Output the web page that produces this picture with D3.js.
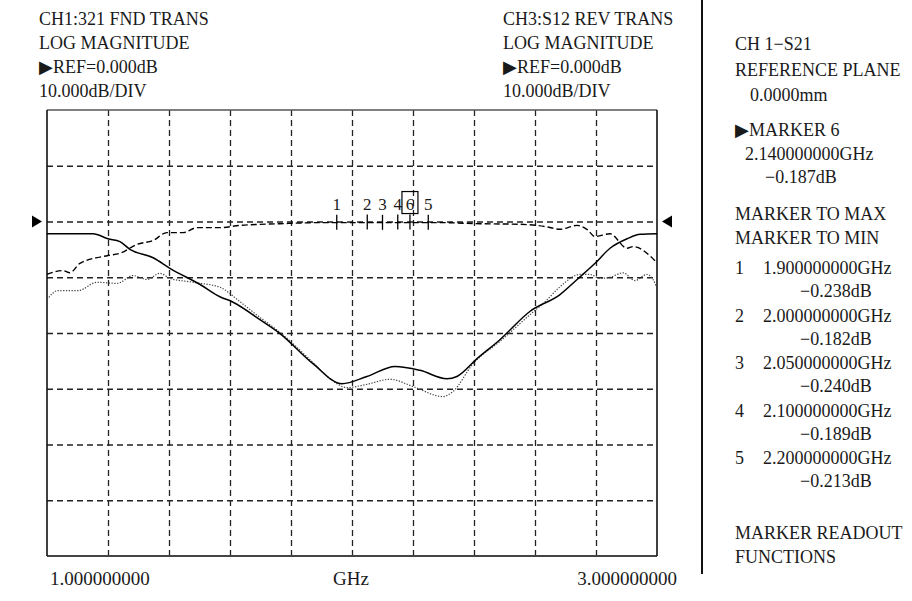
<!DOCTYPE html>
<html>
<head>
<meta charset="utf-8">
<script src="https://cdn.jsdelivr.net/npm/d3@7"></script>
<style>
  body { margin: 0; background: #fff; }
  svg text { font-family: "Liberation Serif", "Times New Roman", serif; fill: #1a1a1a; }
</style>
</head>
<body>
<svg id="chart" width="912" height="601"></svg>
<script>
// Sweep and display settings
const sweepGHz = [0.95, 2.95];
const dbRange = [-60, 20];
const xDivisions = 10;
const yDivisions = 8;
const startLabel = "1.000000000";
const stopLabel = "3.000000000";
const unitLabel = "GHz";

// Channel header text
const ch1Header = ["CH1:321 FND TRANS", "LOG MAGNITUDE", "\u25B6REF=0.000dB", "10.000dB/DIV"];
const ch3Header = ["CH3:S12 REV TRANS", "LOG MAGNITUDE", "\u25B6REF=0.000dB", "10.000dB/DIV"];

// Trace readings: [GHz, dB]
const s21Trace = [
  [0.950, -9.5], [1.002, -8.8], [1.025, -9.2], [1.058, -7.5], [1.150, -6.1], [1.189, -5.7],
  [1.245, -4.1], [1.298, -3.4], [1.343, -2.0], [1.396, -2.0], [1.442, -1.1], [1.517, -1.1],
  [1.583, -0.7], [1.714, -0.4], [1.845, -0.2], [1.976, -0.2], [2.107, -0.2], [2.239, -0.2],
  [2.370, -0.4], [2.501, -0.5], [2.583, -0.9], [2.632, -1.4], [2.688, -0.7], [2.720, -1.4],
  [2.747, -2.7], [2.796, -2.2], [2.852, -4.8], [2.871, -4.5], [2.950, -7.4]
];
const fwdTrace = [
  [0.950, -2.2], [1.101, -2.2], [1.150, -3.1], [1.189, -3.6], [1.222, -5.0], [1.298, -6.5],
  [1.353, -8.4], [1.452, -11.3], [1.517, -13.5], [1.557, -14.4], [1.648, -17.6], [1.714, -20.1],
  [1.822, -25.5], [1.917, -29.1], [1.999, -27.8], [2.091, -26.0], [2.173, -26.7], [2.261, -28.2],
  [2.294, -27.8], [2.360, -24.6], [2.435, -21.2], [2.534, -16.1], [2.632, -13.1], [2.688, -10.4],
  [2.747, -7.5], [2.796, -4.8], [2.852, -3.1], [2.895, -2.3], [2.950, -2.2]
];
const revTrace = [
  [0.950, -14.0], [0.986, -12.4], [1.052, -12.4], [1.114, -10.9], [1.180, -11.1], [1.232, -9.7],
  [1.278, -10.4], [1.320, -9.3], [1.353, -10.2], [1.429, -10.9], [1.517, -11.8], [1.583, -14.4],
  [1.648, -17.2], [1.714, -19.9], [1.822, -25.3], [1.878, -28.2], [1.934, -29.8], [1.999, -29.2],
  [2.075, -28.3], [2.150, -29.6], [2.248, -31.4], [2.281, -30.5], [2.347, -25.5], [2.435, -21.5],
  [2.534, -16.7], [2.583, -14.4], [2.632, -11.7], [2.698, -9.5], [2.730, -9.5], [2.763, -10.2],
  [2.796, -10.0], [2.839, -9.2], [2.878, -10.6], [2.917, -9.5], [2.937, -10.4], [2.950, -12.0]
];

// Marker table
const markerIds = [1, 2, 3, 4, 5, 6];
const markerGHz = [1.90, 2.00, 2.05, 2.10, 2.20, 2.14];
const markerDb = [-0.238, -0.182, -0.240, -0.189, -0.213, -0.187];
const activeMarker = 6;
const markerFreqText = ["1.900000000GHz", "2.000000000GHz", "2.050000000GHz", "2.100000000GHz", "2.200000000GHz", "2.140000000GHz"];

const svg = d3.select("#chart");
const plot = { left: 47, top: 110, width: 610, height: 446 };

const x = d3.scaleLinear().domain(sweepGHz).range([plot.left, plot.left + plot.width]);
const y = d3.scaleLinear().domain(dbRange).range([plot.top + plot.height, plot.top]);

const xDivs = d3.range(1, xDivisions).map(i => sweepGHz[0] + i * (sweepGHz[1] - sweepGHz[0]) / xDivisions);
const yDivs = d3.range(1, yDivisions).map(i => dbRange[0] + i * (dbRange[1] - dbRange[0]) / yDivisions);

// Graticule
const gx = svg.append("g")
  .attr("transform", `translate(0,${plot.top + plot.height})`)
  .call(d3.axisBottom(x).tickValues(xDivs).tickSize(-plot.height).tickFormat(""));
gx.select(".domain").remove();
gx.selectAll("line").attr("stroke", "#222").attr("stroke-width", 1.3).attr("stroke-dasharray", "6,4");

const gy = svg.append("g")
  .attr("transform", `translate(${plot.left},0)`)
  .call(d3.axisLeft(y).tickValues(yDivs).tickSize(-plot.width).tickFormat(""));
gy.select(".domain").remove();
gy.selectAll("line").attr("stroke", "#222").attr("stroke-width", 1.3).attr("stroke-dasharray", "6,4");

// Frame
svg.append("line").attr("x1", x(sweepGHz[0])).attr("x2", x(sweepGHz[1])).attr("y1", y(dbRange[1])).attr("y2", y(dbRange[1]))
  .attr("stroke", "#555").attr("stroke-width", 1.5);
svg.append("line").attr("x1", x(sweepGHz[0])).attr("x2", x(sweepGHz[1])).attr("y1", y(dbRange[0])).attr("y2", y(dbRange[0]))
  .attr("stroke", "#444").attr("stroke-width", 2);
svg.append("line").attr("x1", x(sweepGHz[0])).attr("x2", x(sweepGHz[0])).attr("y1", y(dbRange[1])).attr("y2", y(dbRange[0]))
  .attr("stroke", "#111").attr("stroke-width", 1.6);
svg.append("line").attr("x1", x(sweepGHz[1])).attr("x2", x(sweepGHz[1])).attr("y1", y(dbRange[1])).attr("y2", y(dbRange[0]))
  .attr("stroke", "#111").attr("stroke-width", 1.6);

// Reference level pointers
const refY = y(0);
svg.append("path").attr("d", `M${x(sweepGHz[0]) - 15},${refY - 6}L${x(sweepGHz[0]) - 5},${refY}L${x(sweepGHz[0]) - 15},${refY + 6}Z`).attr("fill", "#000");
svg.append("path").attr("d", `M${x(sweepGHz[1]) + 15},${refY - 6}L${x(sweepGHz[1]) + 5},${refY}L${x(sweepGHz[1]) + 15},${refY + 6}Z`).attr("fill", "#000");

// Traces
const line = d3.line().x(d => x(d[0])).y(d => y(d[1])).curve(d3.curveMonotoneX);
svg.append("path").datum(revTrace).attr("d", line).attr("fill", "none")
  .attr("stroke", "#444").attr("stroke-width", 1.2).attr("stroke-dasharray", "1.3,1.5");
svg.append("path").datum(fwdTrace).attr("d", line).attr("fill", "none")
  .attr("stroke", "#000").attr("stroke-width", 1.5);
svg.append("path").datum(s21Trace).attr("d", line).attr("fill", "none")
  .attr("stroke", "#000").attr("stroke-width", 1.4).attr("stroke-dasharray", "6,3");

// Markers on the S21 trace
const markers = markerIds.map((id, i) => ({ id, f: markerGHz[i], db: markerDb[i] }));
const mg = svg.append("g");
mg.selectAll("line.tick").data(markers).join("line")
  .attr("x1", d => x(d.f)).attr("x2", d => x(d.f))
  .attr("y1", d => y(d.db) - 8).attr("y2", d => y(d.db) + 7)
  .attr("stroke", "#000").attr("stroke-width", 1.3);
mg.selectAll("text").data(markers).join("text")
  .attr("x", d => x(d.f)).attr("y", d => y(d.db) - 13)
  .attr("text-anchor", "middle").attr("font-size", 17)
  .text(d => d.id);
const act = markers.find(d => d.id === activeMarker);
mg.append("rect").attr("x", x(act.f) - 8).attr("y", y(act.db) - 31).attr("width", 16).attr("height", 22)
  .attr("fill", "none").attr("stroke", "#000").attr("stroke-width", 1.2);

// Headers
const hdr = (lines, x0) => svg.append("g").selectAll("text").data(lines).join("text")
  .attr("x", x0).attr("y", (d, i) => 25 + i * 24).attr("font-size", 18).text(d => d);
hdr(ch1Header, 39);
hdr(ch3Header, 503);

// Sweep labels
svg.append("text").attr("x", 50).attr("y", 585).attr("font-size", 19).text(startLabel);
svg.append("text").attr("x", 351).attr("y", 585).attr("font-size", 19).attr("text-anchor", "middle").text(unitLabel);
svg.append("text").attr("x", 677).attr("y", 585).attr("font-size", 19).attr("text-anchor", "end").text(stopLabel);

// Readout panel
svg.append("line").attr("x1", 702).attr("x2", 702).attr("y1", 0).attr("y2", 574).attr("stroke", "#111").attr("stroke-width", 2);
const fmtDb = v => (v < 0 ? "\u2212" : "") + Math.abs(v).toFixed(3) + "dB";
const panel = svg.append("g").attr("font-size", 18);
const put = (t, px, py) => panel.append("text").attr("x", px).attr("y", py).text(t);
const act6 = markerIds.indexOf(activeMarker);
put("CH 1\u2212S21", 735, 50);
put("REFERENCE PLANE", 735, 76);
put("0.0000mm", 750, 101);
put("\u25B6MARKER " + activeMarker, 735, 136);
put(markerFreqText[act6], 745, 160);
put(fmtDb(markerDb[act6]), 765, 183);
put("MARKER TO MAX", 735, 220);
put("MARKER TO MIN", 735, 244);
markerIds.filter(id => id !== activeMarker).forEach((id, k) => {
  const i = markerIds.indexOf(id);
  const by = 274 + k * 47.5;
  put(String(id), 735, by);
  put(markerFreqText[i], 763, by);
  put(fmtDb(markerDb[i]), 800, by + 23);
});
put("MARKER READOUT", 735, 539);
put("FUNCTIONS", 735, 563);
</script>
</body>
</html>
